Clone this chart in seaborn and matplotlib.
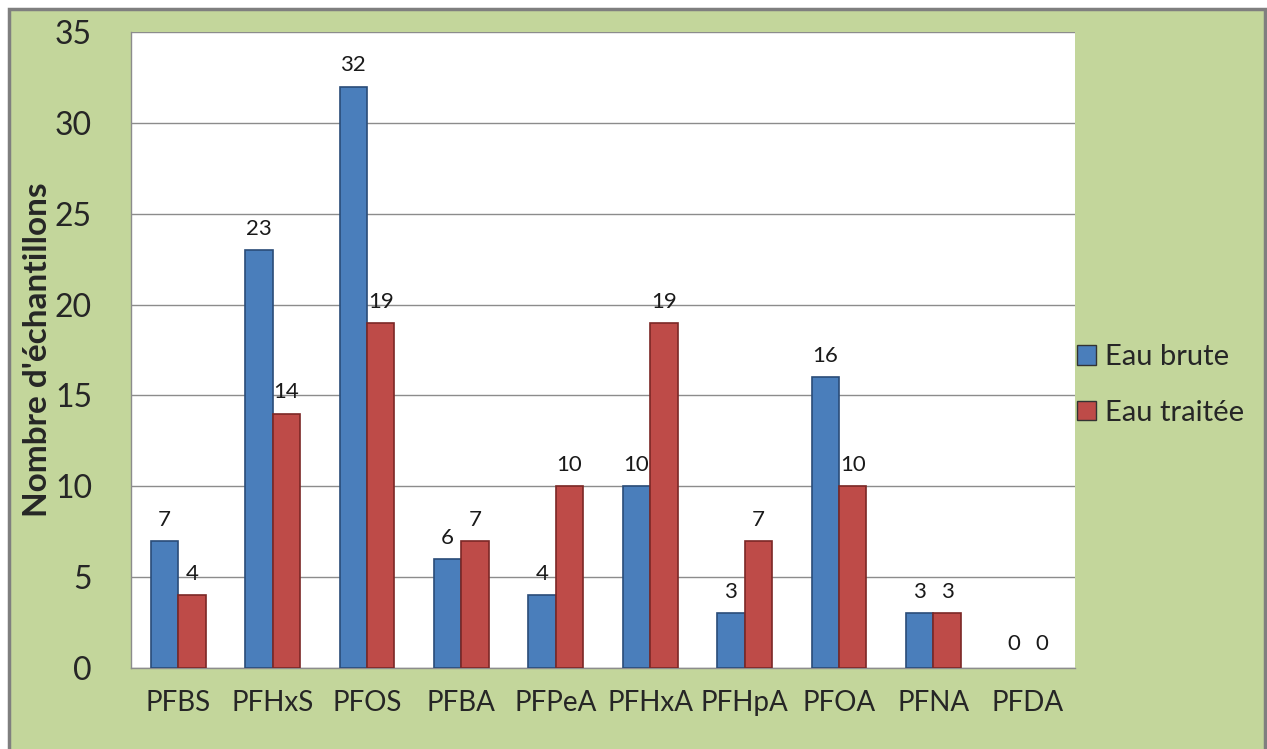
import matplotlib
matplotlib.use("Agg")
import matplotlib.pyplot as plt
import seaborn as sns
import pandas as pd
from matplotlib.patches import Rectangle

categories = ["PFBS", "PFHxS", "PFOS", "PFBA", "PFPeA", "PFHxA", "PFHpA", "PFOA", "PFNA", "PFDA"]
eau_brute = [7, 23, 32, 6, 4, 10, 3, 16, 3, 0]
eau_traitee = [4, 14, 19, 7, 10, 19, 7, 10, 3, 0]
series_names = ["Eau brute", "Eau traitée"]
yticks = [0, 5, 10, 15, 20, 25, 30, 35]

df = pd.DataFrame({
    "cat": categories * 2,
    "val": eau_brute + eau_traitee,
    "serie": [series_names[0]] * len(categories) + [series_names[1]] * len(categories),
})

sns.set_style("white")
plt.rcParams["font.family"] = ["Lato", "DejaVu Sans"]

W, H = 1267, 749
fig = plt.figure(figsize=(W / 100, H / 100), dpi=100, facecolor="white")
green = "#c3d69b"
fig.patches.append(Rectangle((9 / W, -0.05), (1265 - 9) / W, 1.05 - 9 / H,
                             transform=fig.transFigure, facecolor=green,
                             edgecolor="#7f7f7f", linewidth=2.5, zorder=-10))

ax = fig.add_axes([131 / W, 1 - 668 / H, (1075 - 131) / W, (668 - 32) / H])
ax.set_facecolor("white")

palette = {series_names[0]: "#4a7ebb", series_names[1]: "#be4b48"}
sns.barplot(data=df, x="cat", y="val", hue="serie", order=categories,
            hue_order=series_names, palette=palette, width=0.58, gap=0,
            ax=ax, saturation=1, edgecolor="none", legend=True)

edges = {0: "#2a4c78", 1: "#7b2826"}
for i, cont in enumerate(ax.containers):
    vals = eau_brute if i == 0 else eau_traitee
    for bar, v in zip(cont, vals):
        bar.set_edgecolor(edges[i])
        bar.set_linewidth(1.2 if v > 0 else 0)
        bar.set_zorder(3)
        ax.annotate(str(v), (bar.get_x() + bar.get_width() / 2, v),
                    xytext=(0, 8 if v > 0 else 10), textcoords="offset points",
                    ha="center", va="bottom", fontsize=16, color="#1a1a1a")

ax.set_ylim(0, 35)
ax.set_xlim(-0.5, len(categories) - 0.5)
ax.set_yticks(yticks)
ax.set_yticklabels([str(t) for t in yticks], fontsize=23)
ax.yaxis.grid(True, color="#8c8c8c", linewidth=1.0)
ax.set_axisbelow(True)

ax.set_xticks(range(len(categories)))
ax.set_xticklabels(categories, fontsize=20)
ax.tick_params(axis="x", length=0, pad=16)
ax.set_xticks([i - 0.5 for i in range(len(categories) + 1)], minor=True)
ax.tick_params(axis="x", which="minor", length=12, width=1, color="#8c8c8c", direction="out")
ax.tick_params(axis="y", length=12, width=1, color="#8c8c8c", direction="out", pad=16)

for s in ["top", "right"]:
    ax.spines[s].set_visible(False)
for s in ["left", "bottom"]:
    ax.spines[s].set_color("#8c8c8c")
    ax.spines[s].set_linewidth(1.0)

ax.set_xlabel("")
ax.set_ylabel("Nombre d'échantillons", fontsize=24, fontweight="bold")
ax.yaxis.set_label_coords(-0.0837, 0.5)

leg = ax.legend(loc="center left", bbox_to_anchor=(0.99, 0.445), frameon=False,
                fontsize=21, handlelength=0.65, handleheight=0.65, handletextpad=0.3,
                labelspacing=1.0, borderaxespad=0.0)
for h in leg.legend_handles:
    h.set_edgecolor("#333333")

fig.savefig("out.png", dpi=100, facecolor="white")
